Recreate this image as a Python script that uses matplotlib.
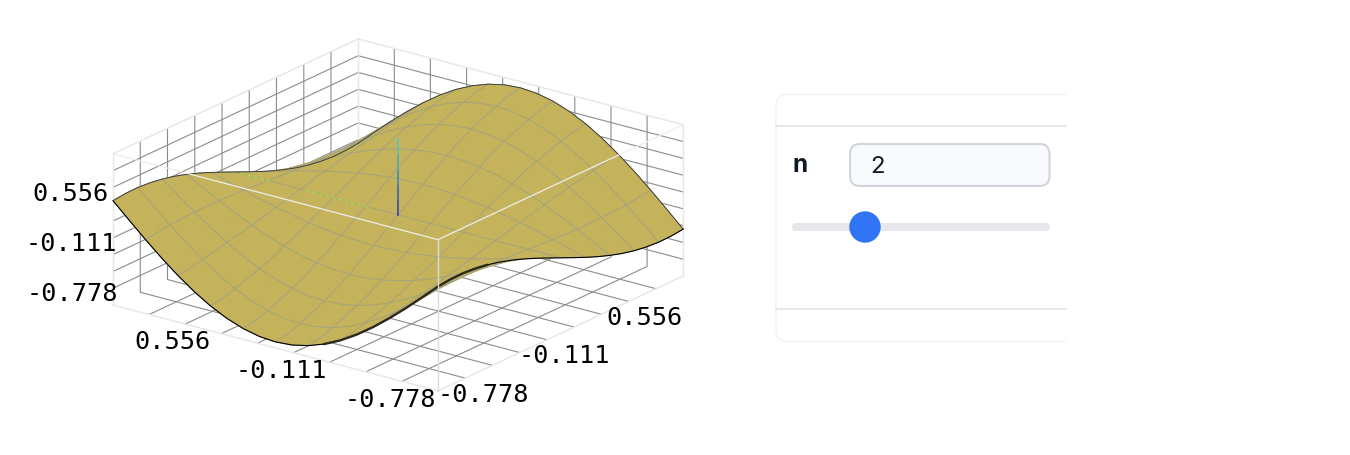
import numpy as np
import matplotlib
matplotlib.use("Agg")
import matplotlib.pyplot as plt
from matplotlib.colors import LinearSegmentedColormap
from matplotlib.patches import FancyBboxPatch, Circle

W, H = 1350, 456

grid_values = [-1.0, -0.9, -0.8, -0.7, -0.6, -0.5, -0.4, -0.3, -0.2, -0.1, 0.0,
               0.1, 0.2, 0.3, 0.4, 0.5, 0.6, 0.7, 0.8, 0.9, 1.0]
tick_values = [-0.778, -0.556, -0.333, -0.111, 0.111, 0.333, 0.556, 0.778]

# surface heights, y from -1 to 0, one row per x from -1 to 0.
# the sheet looks mirrored in y and flips sign in x, so only this quarter is kept
z_quarter = [
    [0.380, 0.177, -0.022, -0.210, -0.384, -0.539, -0.672, -0.778, -0.856, -0.904, -0.920],
    [0.398, 0.197, 0.000, -0.187, -0.359, -0.513, -0.644, -0.750, -0.827, -0.875, -0.890],
    [0.401, 0.209, 0.021, -0.158, -0.323, -0.469, -0.595, -0.696, -0.770, -0.815, -0.830],
    [0.388, 0.209, 0.033, -0.133, -0.287, -0.424, -0.541, -0.635, -0.704, -0.746, -0.760],
    [0.362, 0.199, 0.040, -0.111, -0.251, -0.375, -0.481, -0.566, -0.629, -0.668, -0.680],
    [0.323, 0.181, 0.041, -0.091, -0.214, -0.322, -0.416, -0.490, -0.545, -0.579, -0.590],
    [0.272, 0.155, 0.040, -0.069, -0.170, -0.260, -0.336, -0.398, -0.443, -0.471, -0.480],
    [0.213, 0.122, 0.033, -0.052, -0.130, -0.199, -0.259, -0.306, -0.341, -0.363, -0.370],
    [0.146, 0.084, 0.024, -0.034, -0.087, -0.134, -0.174, -0.207, -0.231, -0.245, -0.250],
    [0.074, 0.043, 0.012, -0.017, -0.044, -0.067, -0.088, -0.104, -0.116, -0.124, -0.126],
    [0.000, 0.000, 0.000, 0.000, 0.000, 0.000, 0.000, 0.000, 0.000, 0.000, 0.000],
]

center_line_z = [0.0, 0.2, 0.4, 0.6, 0.8, 1.0]
green_parts = [[0.97, 0.79], [0.57, 0.17]]

z_labels = [("0.556", 70, 194), ("-0.111", 71, 244), ("-0.778", 72, 294)]
x_labels = [("0.556", 173, 342), ("-0.111", 281, 371), ("-0.778", 390, 400)]
y_labels = [("-0.778", 483, 395), ("-0.111", 564, 356), ("0.556", 645, 318)]

fig = plt.figure(figsize=(W / 100, H / 100), dpi=100, facecolor="white")

size = 600
cx, cy = 390, 224
ax = fig.add_axes(
    [(cx - size / 2) / W, 1 - (cy + size / 2) / H, size / W, size / H],
    projection="3d",
    computed_zorder=False,
)
ax.patch.set_alpha(0)
ax.set_proj_type("ortho")
ax.view_init(elev=20.6, azim=-143.1)
ax.set_box_aspect((408, 406, 161.4), zoom=0.968)
ax.set_xlim(-1, 1, view_margin=0)
ax.set_ylim(-1, 1, view_margin=0)
ax.set_zlim(-1, 1, view_margin=0)

for axis in [ax.xaxis, ax.yaxis, ax.zaxis]:
    axis.set_ticks(tick_values)
    axis.set_ticklabels([])
    axis.set_tick_params(length=0, color=(1, 1, 1, 0))
    axis.line.set_color((1, 1, 1, 0))
    axis.set_pane_color((1, 1, 1, 0))
    axis.pane.set_edgecolor((1, 1, 1, 0))
    axis._axinfo["grid"]["color"] = "#8c8c8c"
    axis._axinfo["grid"]["linewidth"] = 0.8
    axis._axinfo["tick"]["inward_factor"] = 0
    axis._axinfo["tick"]["outward_factor"] = 0

X, Y = np.meshgrid(grid_values, grid_values, indexing="ij")
half = np.array(z_quarter)
half = np.hstack([half, half[:, -2::-1]])
Z = np.vstack([half, -half[-2::-1]])

# back edges of the box
box_color = "#e6e6e6"
ax.plot([-1, 1], [1, 1], [1, 1], color=box_color, lw=1, zorder=1)
ax.plot([1, 1], [-1, 1], [1, 1], color=box_color, lw=1, zorder=1)
ax.plot([1, 1], [1, 1], [-1, 1], color=box_color, lw=1, zorder=1)
ax.plot([-1, -1], [1, 1], [-1, 1], color=box_color, lw=1, zorder=1)
ax.plot([1, 1], [-1, -1], [-1, 1], color=box_color, lw=1, zorder=1)
ax.plot([-1, -1], [-1, 1], [-1, -1], color=box_color, lw=1, zorder=1)
ax.plot([-1, 1], [-1, -1], [-1, -1], color=box_color, lw=1, zorder=1)

ax.plot_surface(
    X, Y, Z, color="#c4b35a", shade=False, edgecolor="#c4b35a", linewidth=0.4,
    rstride=1, cstride=1, zorder=2,
)
ax.plot_wireframe(X, Y, Z, rstride=2, cstride=2, color="#a5a27f", linewidth=0.7, zorder=3)

# outline of the sheet, heavier where the underside shows
ax.plot(X[0], Y[0], Z[0], color="black", lw=0.8, zorder=3)
ax.plot(X[-1], Y[-1], Z[-1], color="#333333", lw=0.6, zorder=3)
ax.plot(X[:, 0], Y[:, 0], Z[:, 0], color="black", lw=0.8, zorder=3)
ax.plot(X[:, -1], Y[:, -1], Z[:, -1], color="#333333", lw=0.6, zorder=3)
ax.plot(X[0][:8], Y[0][:8], Z[0][:8], color="#2b2a1c", lw=1.7, zorder=3)
ax.plot(X[:, 0][:5], Y[:, 0][:5], Z[:, 0][:5], color="#2b2a1c", lw=1.7, zorder=3)

# lines through the centre
line_cmap = LinearSegmentedColormap.from_list("line", ["#3f4fa8", "#5fc4b2"])
for i in range(len(center_line_z) - 1):
    ax.plot([0, 0], [0, 0], center_line_z[i:i + 2], lw=1.3, zorder=4,
            color=line_cmap(i / (len(center_line_z) - 2)))
for part in green_parts:
    ax.plot([0, 0], part, [0, 0], color="#a9dc45", lw=0.8, ls=(0, (4, 2)), zorder=4)

# front edges, these sit over the surface
front_color = "#eeeeee"
ax.plot([-1, -1], [-1, 1], [1, 1], color=front_color, lw=0.9, zorder=5)
ax.plot([-1, 1], [-1, -1], [1, 1], color=front_color, lw=0.9, zorder=5)
ax.plot([-1, -1], [-1, -1], [-1, 1], color="#dcdcdc", lw=1.0, zorder=5)

# flat layer in pixel coordinates for the labels and the control card
over = fig.add_axes([0, 0, 1, 1], facecolor="none")
over.set_xlim(0, W)
over.set_ylim(H, 0)
over.axis("off")

for text, x, y in z_labels + x_labels + y_labels:
    over.text(x, y, text, family="DejaVu Sans Mono", fontsize=18.2, color="black",
              ha="center", va="center")

over.add_patch(FancyBboxPatch((776, 95.5), 320, 247, boxstyle="round,pad=0,rounding_size=12",
                              fc="white", ec="#f3f3f5", lw=1))
over.add_patch(plt.Rectangle((1066, 90), 40, 260, fc="white", ec="none"))
over.plot([776, 1066], [127, 127], color="#e5e7eb", lw=1.4)
over.plot([776, 1066], [310, 310], color="#e5e7eb", lw=1.4)
over.text(800, 166, "n", family=["Inter", "Noto Sans"], fontsize=17.5, fontweight="bold",
          color="#111827", ha="center", va="center")
over.add_patch(FancyBboxPatch((850, 145), 199.5, 42, boxstyle="round,pad=0,rounding_size=10",
                              fc="#f9fafb", ec="#d1d5db", lw=1.5))
over.text(878, 167, "2", family=["Inter", "Noto Sans"], fontsize=17.3, color="#111827",
          ha="center", va="center")
over.add_patch(FancyBboxPatch((792, 224), 258, 8, boxstyle="round,pad=0,rounding_size=4",
                              fc="#e5e7eb", ec="none"))
over.add_patch(Circle((865, 228), 15.7, fc="#3174f6", ec="none"))

fig.savefig("out.png", dpi=100)
